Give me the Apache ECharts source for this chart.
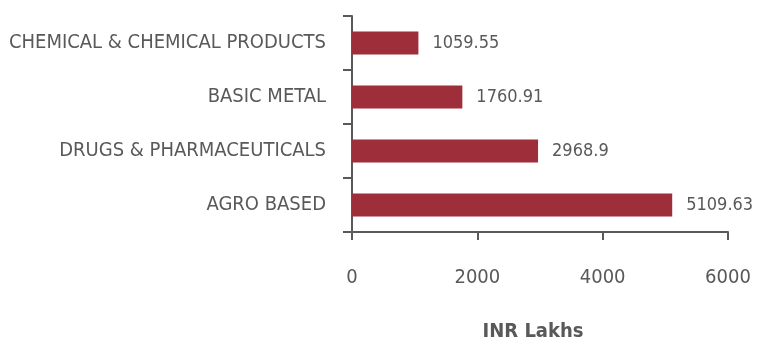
<!DOCTYPE html>
<html><head><meta charset="utf-8">
<script src="https://cdn.jsdelivr.net/npm/echarts@6/dist/echarts.min.js"></script>
<style>html,body{margin:0;padding:0;background:#fff}#c{width:758px;height:338px}</style>
</head><body><div id="c"></div>
<script>
const categories = ['AGRO BASED', 'DRUGS & PHARMACEUTICALS', 'BASIC METAL', 'CHEMICAL & CHEMICAL PRODUCTS'];
const values = [5109.63, 2968.9, 1760.91, 1059.55];
const xTicks = [0, 2000, 4000, 6000];
const axisName = 'INR Lakhs';

const FONT = "'DejaVu Sans Condensed', 'Liberation Sans Narrow', sans-serif";
const TXT = '#595959';
const chart = echarts.init(document.getElementById('c'), null, {renderer: 'canvas'});
chart.setOption({
  animation: false,
  grid: {left: 352, right: 30, top: 16, bottom: 106, containLabel: false, outerBoundsMode: 'none'},
  xAxis: {
    type: 'value', min: xTicks[0], max: xTicks[xTicks.length - 1], interval: 2000,
    name: axisName, nameLocation: 'middle', nameGap: 90,
    nameTextStyle: {fontFamily: FONT, fontSize: 20, fontWeight: 'bold', color: TXT, padding: [0, 14, 0, 0]},
    axisLine: {show: true, lineStyle: {color: '#595959', width: 2}},
    axisTick: {show: true, length: 8, lineStyle: {color: '#595959', width: 2}},
    axisLabel: {fontFamily: FONT, fontSize: 20, color: TXT, margin: 36, formatter: v => String(v)},
    splitLine: {show: false}
  },
  yAxis: {
    type: 'category', data: categories,
    axisLine: {show: true, lineStyle: {color: '#595959', width: 2}},
    axisTick: {show: true, length: 9, lineStyle: {color: '#595959', width: 2}},
    axisLabel: {fontFamily: FONT, fontSize: 20, color: TXT, margin: 26},
    splitLine: {show: false}
  },
  series: [{
    type: 'bar', data: values, barWidth: 23,
    itemStyle: {color: '#9E2F3A'},
    label: {show: true, position: 'right', distance: 14, fontFamily: FONT, fontSize: 18, color: TXT,
      formatter: p => String(p.value)}
  }]
});
</script></body></html>
